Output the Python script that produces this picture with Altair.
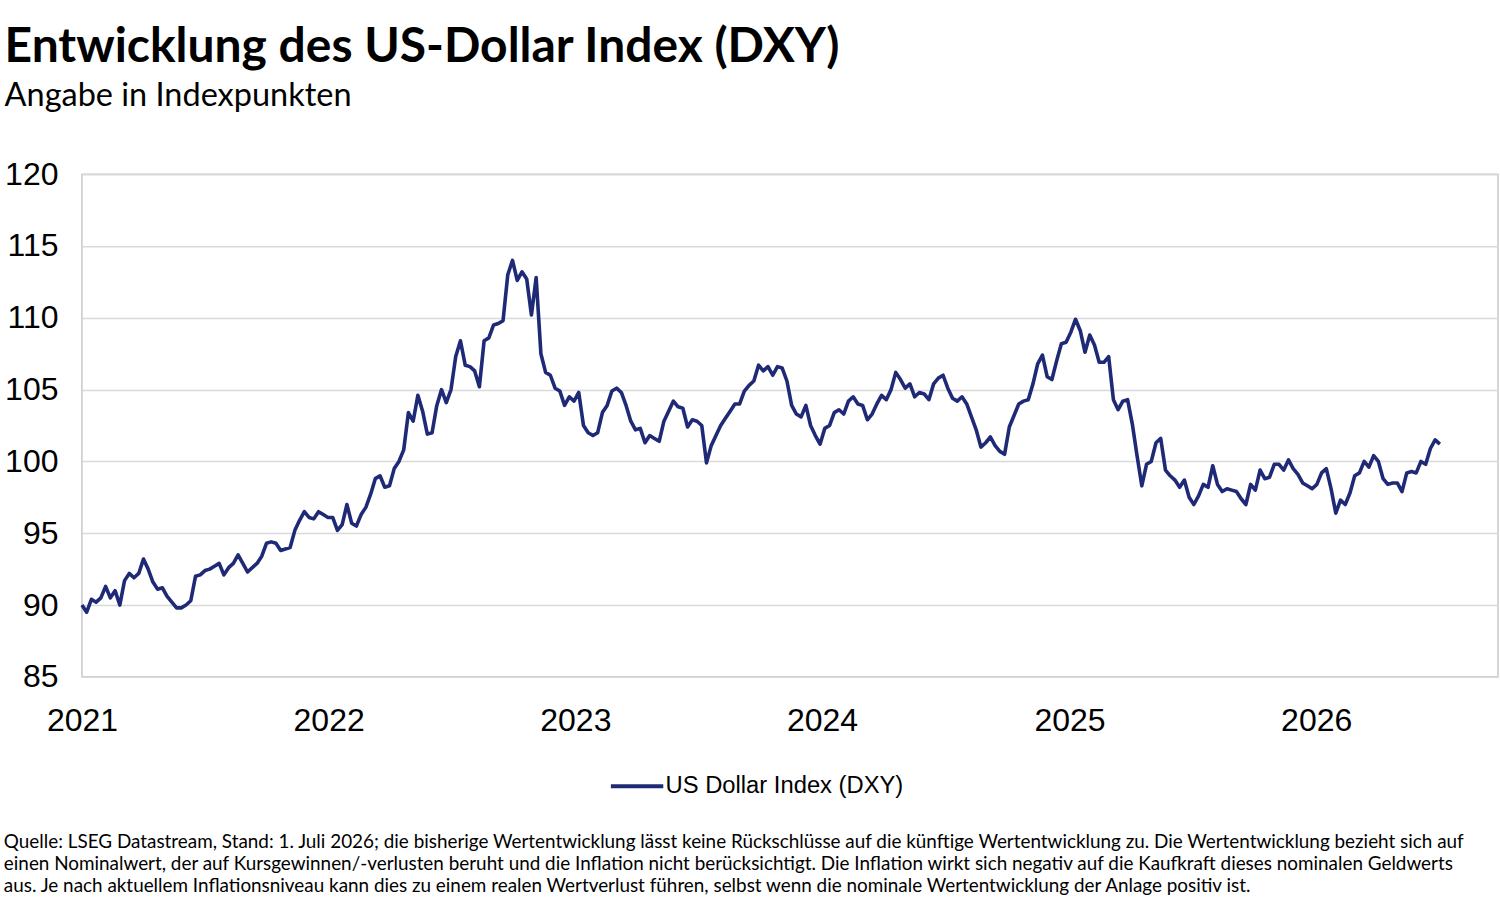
import altair as alt
import pandas as pd

# Weekly readings of the US Dollar Index (DXY), first reading 1 Jan 2021
dxy_2021 = [90.0, 89.5, 90.4, 90.2, 90.5, 91.3, 90.5, 91.0, 90.0, 91.7, 92.2, 91.9, 92.2,
            93.2, 92.5, 91.6, 91.1, 91.2, 90.6, 90.2, 89.8, 89.8, 90.0, 90.3, 92.0, 92.1,
            92.4, 92.5, 92.7, 92.9, 92.1, 92.6, 92.9, 93.5, 92.9, 92.3, 92.6, 92.9, 93.4,
            94.3, 94.4, 94.3, 93.8, 93.9, 94.0, 95.2, 95.9, 96.5, 96.1, 96.0, 96.5, 96.3, 96.1]
dxy_2022 = [96.1, 95.2, 95.6, 97.0, 95.7, 95.5, 96.3, 96.8, 97.7, 98.8, 99.0, 98.2, 98.3,
            99.5, 100.0, 100.8, 103.4, 102.8, 104.6, 103.5, 101.9, 102.0, 103.9, 105.0,
            104.1, 105.0, 107.3, 108.4, 106.7, 106.6, 106.3, 105.2, 108.4, 108.6, 109.5,
            109.6, 109.8, 113.0, 114.0, 112.6, 113.2, 112.7, 110.2, 112.8, 107.5, 106.2,
            106.0, 105.1, 104.9, 103.9, 104.5, 104.2]
dxy_2023 = [104.8, 102.5, 102.0, 101.8, 102.0, 103.4, 103.9, 104.9, 105.1, 104.8,
            103.9, 102.8, 102.2, 102.3, 101.3, 101.8, 101.6, 101.4, 102.8, 103.5, 104.2,
            103.8, 103.7, 102.4, 102.9, 102.8, 102.5, 99.9, 101.1, 101.8, 102.5, 103.0,
            103.5, 104.0, 104.0, 104.9, 105.3, 105.6, 106.7, 106.3, 106.6, 106.0, 106.6,
            106.5, 105.6, 103.9, 103.3, 103.1, 103.9, 102.5, 101.8, 101.2]
dxy_2024 = [102.3, 102.5, 103.4, 103.6, 103.3, 104.2, 104.5, 104.0, 103.9, 102.9, 103.3,
            104.0, 104.6, 104.3, 105.0, 106.2, 105.7, 105.1, 105.4, 104.5, 104.8, 104.7,
            104.3, 105.4, 105.8, 106.0, 105.1, 104.4, 104.2, 104.5, 104.0, 103.1, 102.2,
            101.0, 101.3, 101.7, 101.1, 100.7, 100.5, 102.4, 103.2, 104.0, 104.2, 104.3,
            105.4, 106.8, 107.4, 105.9, 105.7, 107.0, 108.2, 108.3]
dxy_2025 = [109.0, 109.9, 109.1, 107.6, 108.8, 108.1, 106.9, 106.9, 107.3, 104.3, 103.6,
            104.2, 104.3, 102.6, 100.4, 98.3, 99.8, 100.0, 101.3, 101.6, 99.4, 99.0, 98.7,
            98.2, 98.7, 97.5, 97.0, 97.6, 98.4, 98.2, 99.7, 98.4, 97.9, 98.1, 98.0, 97.9,
            97.4, 97.0, 98.4, 98.0, 99.4, 98.8, 98.9, 99.8, 99.8, 99.4, 100.1, 99.5, 99.1,
            98.5, 98.3, 98.1]
dxy_2026 = [98.4, 99.2, 99.5, 98.1, 96.4, 97.3, 97.0, 97.8, 99.0, 99.2, 100.0, 99.6,
            100.4, 100.0, 98.8, 98.4, 98.5, 98.5, 97.9, 99.2, 99.3, 99.2, 100.0, 99.8,
            100.9, 101.5, 101.2]

weekly_values = dxy_2021 + dxy_2022 + dxy_2023 + dxy_2024 + dxy_2025 + dxy_2026
week_dates = pd.date_range("2021-01-01", periods=len(weekly_values), freq="7D")

series_name = "US Dollar Index (DXY)"
y_ticks = [85, 90, 95, 100, 105, 110, 115, 120]
x_years = [2021, 2022, 2023, 2024, 2025, 2026]

title_text = "Entwicklung des US-Dollar Index (DXY)"
subtitle_text = "Angabe in Indexpunkten"
footnote_lines = [
    "Quelle: LSEG Datastream, Stand: 1. Juli 2026; die bisherige Wertentwicklung lässt keine Rückschlüsse auf die künftige Wertentwicklung zu. Die Wertentwicklung bezieht sich auf",
    "einen Nominalwert, der auf Kursgewinnen/-verlusten beruht und die Inflation nicht berücksichtigt. Die Inflation wirkt sich negativ auf die Kaufkraft dieses nominalen Geldwerts",
    "aus. Je nach aktuellem Inflationsniveau kann dies zu einem realen Wertverlust führen, selbst wenn die nominale Wertentwicklung der Anlage positiv ist.",
]

df = pd.DataFrame({
    "date": week_dates.strftime("%Y-%m-%dT00:00:00"),
    "value": weekly_values,
    "series": series_name,
})

axis_font = "Liberation Sans"
text_font = "Lato"
line_color = "#1f2a77"

line = alt.Chart(df).mark_line(strokeWidth=3.6, strokeJoin="round").encode(
    x=alt.X(
        "date:T",
        title=None,
        scale=alt.Scale(domain=[alt.DateTime(year=2021, month=1, date=1),
                                alt.DateTime(year=2026, month=9, date=27)]),
        axis=alt.Axis(
            values=[alt.DateTime(year=y, month=1, date=1) for y in x_years],
            format="%Y", grid=False, ticks=False, domain=False,
            labelFont=axis_font, labelFontSize=32, labelColor="#000",
            labelPadding=29, labelFlush=False,
        ),
    ),
    y=alt.Y(
        "value:Q",
        title=None,
        scale=alt.Scale(domain=[85, 120], nice=False, zero=False),
        axis=alt.Axis(
            values=y_ticks, grid=True, gridColor="#d9d9d9", gridWidth=1.5,
            ticks=False, domain=False,
            labelFont=axis_font, labelFontSize=32, labelColor="#000", labelPadding=24,
        ),
    ),
    color=alt.Color(
        "series:N",
        scale=alt.Scale(range=[line_color]),
        legend=alt.Legend(
            orient="none", legendX=527, legendY=584, title=None,
            symbolType="stroke", symbolSize=2750, symbolStrokeWidth=4,
            labelFont=axis_font, labelFontSize=23.8, labelColor="#000", labelOffset=0,
            labelLimit=0, direction="horizontal",
        ),
    ),
).properties(
    width=1417,
    height=503,
    title=alt.Title(
        text=title_text, subtitle=subtitle_text, anchor="start",
        font=text_font, fontSize=48, fontWeight="bold", color="#000",
        subtitleFont=text_font, subtitleFontSize=32.5, subtitleColor="#000",
        subtitlePadding=8, offset=46,
    ),
)

chart = alt.vconcat(line).properties(
    padding={"left": 3, "top": 22, "right": 1, "bottom": 4},
    title=alt.Title(
        text=footnote_lines, orient="bottom", anchor="start",
        font=text_font, fontSize=18.9, fontWeight="normal", lineHeight=22,
        color="#000", offset=34,
    ),
).configure_view(stroke="#c8c8c8", strokeWidth=1.5)

chart.save("out.html", embed_options={"renderer": "svg", "actions": False})
